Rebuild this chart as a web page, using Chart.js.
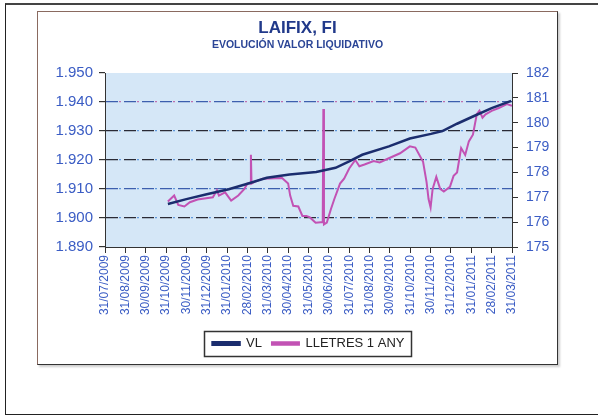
<!DOCTYPE html>
<html>
<head>
<meta charset="utf-8">
<script src="https://cdn.jsdelivr.net/npm/chart.js@4.4.0/dist/chart.umd.min.js"></script>
<style>
  html, body { margin: 0; padding: 0; background: #fff; }
  body { width: 598px; height: 416px; position: relative; overflow: hidden; }
  #frame { position: absolute; left: 5px; top: 3px; width: 620px; height: 409px; border: 1px solid #222; border-top: 2px solid #444; }
  #box { position: absolute; left: 37px; top: 11px; width: 519px; height: 352px;
         border: 1px solid #8a6a60; border-right-color: #333; border-bottom-color: #333;
         box-shadow: 2px 2px 2px rgba(0,0,0,0.2); background: #fff; }
  #chart { display: block; }
</style>
</head>
<body>
<div id="frame"></div>
<div id="box"><canvas id="chart" width="519" height="352"></canvas></div>
<script>
// eje X: fin de mes
const xLabels = ['31/07/2009', '31/08/2009', '30/09/2009', '31/10/2009', '30/11/2009', '31/12/2009',
    '31/01/2010', '28/02/2010', '31/03/2010', '30/04/2010', '31/05/2010', '30/06/2010', '31/07/2010',
    '31/08/2010', '30/09/2010', '31/10/2010', '30/11/2010', '31/12/2010', '31/01/2011', '28/02/2011', '31/03/2011'];
const leftTicks = ['1.890', '1.900', '1.910', '1.920', '1.930', '1.940', '1.950'];
const rightTicks = ['175', '176', '177', '178', '179', '180', '181', '182'];

// VL (eje izquierdo), x = posición en meses desde 31/07/2009
const vlX = [3.09, 4, 5, 6.08, 7, 7.95, 9.07, 10.38, 11.33, 12, 12.64, 13.95, 14.98, 16.02, 16.58, 17.3, 18.08, 19.0, 19.96];
const vlY = [1.9048, 1.9065, 1.9082, 1.9099, 1.9118, 1.9139, 1.915, 1.9159, 1.9173, 1.9195, 1.9218, 1.9247, 1.9274, 1.929, 1.930, 1.9325, 1.935, 1.9379, 1.9404];

// LLETRES 1 ANY (eje derecho)
const lletresX = [3.09, 3.4, 3.6, 3.9, 4.17, 4.55, 5.3, 5.5, 5.6, 5.9, 6.2, 6.55, 6.85, 7.0, 7.15, 7.17, 7.2, 7.35, 7.75, 8.7,
    9.0, 9.1, 9.25, 9.5, 9.7, 9.9, 10.07, 10.35, 10.6, 10.7, 10.73, 10.76, 10.9, 11.1, 11.27, 11.55, 11.75, 12.0, 12.3, 12.5,
    12.75, 13.2, 13.5, 13.95, 14.5, 14.98, 15.25, 15.63, 15.8, 15.9, 16.0, 16.1, 16.28, 16.47, 16.65, 16.95, 17.13, 17.3, 17.5, 17.7,
    17.88, 18.08, 18.27, 18.4, 18.55, 18.7, 19.0, 19.35, 19.75, 20.0];
const lletresY = [176.83, 177.07, 176.69, 176.63, 176.8, 176.91, 177.0, 177.28, 177.07, 177.2, 176.87, 177.07, 177.34, 177.55, 177.55, 178.71, 177.55, 177.62, 177.75, 177.78,
    177.55, 177.07, 176.66, 176.63, 176.25, 176.25, 176.19, 175.98, 176.0, 176.0, 180.55, 175.91, 175.98, 176.52, 176.93, 177.55, 177.75, 178.16, 178.5, 178.25,
    178.32, 178.46, 178.4, 178.57, 178.77, 179.05, 179.0, 178.43, 177.62, 176.93, 176.59, 177.34, 177.82, 177.34, 177.23, 177.42, 177.86, 178.0, 178.98, 178.7,
    179.25, 179.52, 180.34, 180.48, 180.2, 180.34, 180.48, 180.59, 180.75, 180.68];

const FONT = "'Liberation Sans', Arial, sans-serif";
const TICK_BLUE = '#3a5cc4';

const plotBg = {
    id: 'plotBg',
    beforeDraw(chart) {
        const { ctx, chartArea: a } = chart;
        ctx.save();
        ctx.fillStyle = '#d5e7f7';
        ctx.fillRect(a.left, a.top, a.right - a.left, a.bottom - a.top);
        ctx.restore();
    }
};

// marco de la leyenda
const legendFrame = {
    id: 'legendFrame',
    afterDraw(chart) {
        const boxes = chart.legend && chart.legend.legendHitBoxes;
        if (!boxes || !boxes.length) return;
        const left = Math.min(...boxes.map(b => b.left)) - 9;
        const right = Math.max(...boxes.map(b => b.left + b.width)) + 6;
        const top = Math.min(...boxes.map(b => b.top)) - 6;
        const bottom = Math.max(...boxes.map(b => b.top + b.height)) + 6;
        const { ctx } = chart;
        ctx.save();
        ctx.strokeStyle = '#333';
        ctx.lineWidth = 1.5;
        ctx.strokeRect(Math.round(left) + 0.5, Math.round(top) + 0.5, Math.round(right - left), Math.round(bottom - top));
        ctx.restore();
    }
};

new Chart(document.getElementById('chart'), {
    type: 'line',
    data: {
        datasets: [{
            label: 'VL',
            data: vlX.map((x, i) => ({ x, y: vlY[i] })),
            yAxisID: 'y',
            borderColor: '#1b2d6e',
            backgroundColor: '#1b2d6e',
            borderWidth: 2.5,
            pointRadius: 0,
            tension: 0
        }, {
            label: 'LLETRES 1 ANY',
            data: lletresX.map((x, i) => ({ x, y: lletresY[i] })),
            yAxisID: 'y1',
            borderColor: '#c252b4',
            backgroundColor: '#c252b4',
            borderWidth: 2,
            pointRadius: 0,
            tension: 0
        }]
    },
    options: {
        responsive: false,
        animation: false,
        layout: { padding: { left: 0, right: 0, top: 0, bottom: 4 } },
        plugins: {
            title: {
                display: true,
                text: 'LAIFIX, FI',
                color: '#21398a',
                font: { family: FONT, size: 17, weight: 'bold' },
                padding: { top: 6, bottom: 0 }
            },
            subtitle: {
                display: true,
                text: 'EVOLUCIÓN VALOR LIQUIDATIVO',
                color: '#2b4596',
                font: { family: FONT, size: 10.5, weight: 'bold' },
                padding: { top: 0, bottom: 22 }
            },
            legend: {
                position: 'bottom',
                fullSize: false,
                labels: {
                    boxWidth: 27,
                    boxHeight: 2.5,
                    color: '#222',
                    font: { family: FONT, size: 13 },
                    padding: 10
                }
            },
            tooltip: { enabled: false }
        },
        scales: {
            x: {
                type: 'linear',
                min: 0, max: 20,
                ticks: {
                    stepSize: 1,
                    autoSkip: false,
                    minRotation: 90, maxRotation: 90,
                    padding: 2,
                    color: TICK_BLUE,
                    font: { family: FONT, size: 12 },
                    callback: (v, i) => xLabels[i]
                },
                grid: { drawOnChartArea: false, tickLength: 6, color: '#333' },
                border: { color: '#333', width: 1 },
                afterFit: s => { s.height = 80; }
            },
            y: {
                type: 'linear',
                position: 'left',
                min: 1.89, max: 1.95,
                ticks: {
                    stepSize: 0.01,
                    padding: 6,
                    color: TICK_BLUE,
                    font: { family: FONT, size: 15 },
                    callback: (v, i) => leftTicks[i]
                },
                grid: {
                    tickLength: 6,
                    tickColor: '#333',
                    lineWidth: 1.2,
                    color: c => (c.index === 0 || c.index === 6) ? 'rgba(0,0,0,0)' :
                        (c.index === 2 || c.index === 5) ? '#3d5fae' : '#2a2a35'
                },
                border: { color: '#333', width: 1, dash: [12, 6] },
                afterFit: s => { s.width = 67; }
            },
            yg: {
                type: 'linear',
                position: 'left',
                min: 1.89, max: 1.95,
                ticks: { display: false, stepSize: 0.01 },
                grid: {
                    drawTicks: false,
                    lineWidth: 1.2,
                    color: c => (c.index === 0 || c.index === 6) ? 'rgba(0,0,0,0)' :
                        (c.index === 5) ? '#c070b0' : '#5f98dc'
                },
                border: { display: false, dash: [2, 16], dashOffset: -14 },
                afterFit: s => { s.width = 0; }
            },
            y1: {
                type: 'linear',
                position: 'right',
                min: 175, max: 182,
                ticks: {
                    stepSize: 1,
                    padding: 8,
                    color: TICK_BLUE,
                    font: { family: FONT, size: 14 },
                    callback: (v, i) => rightTicks[i]
                },
                grid: { drawOnChartArea: false, tickLength: 6, color: '#333' },
                border: { color: '#333', width: 1 },
                afterFit: s => { s.width = 45; }
            }
        }
    },
    plugins: [plotBg, legendFrame]
});
</script>
</body>
</html>
